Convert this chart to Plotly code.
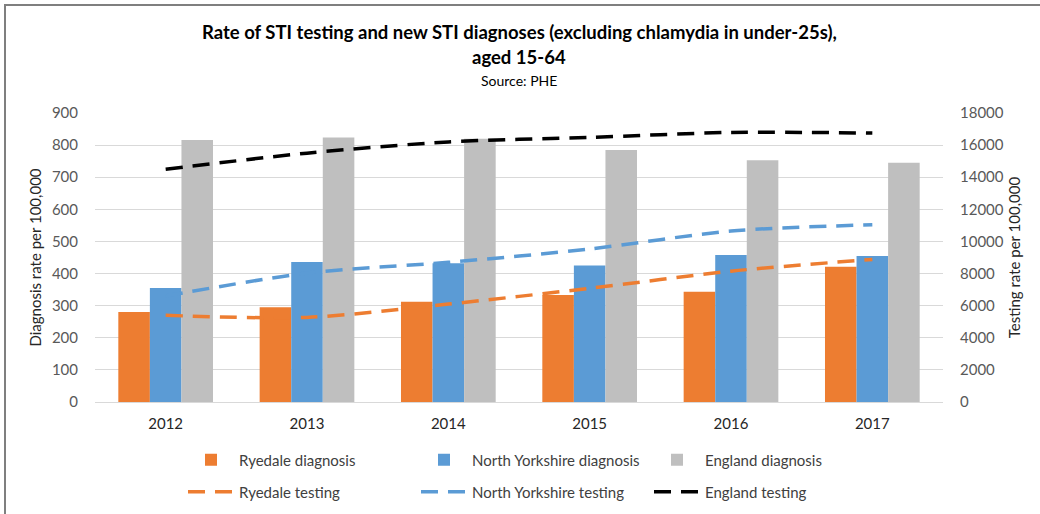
import plotly.graph_objects as go

years = ["2012", "2013", "2014", "2015", "2016", "2017"]
ryedale_diag = [280, 295, 312, 333, 343, 421]
ny_diag = [355, 436, 432, 425, 458, 455]
england_diag = [816, 824, 820, 785, 753, 745]
ryedale_test = [5400, 5270, 6100, 7080, 8150, 8880]
ny_test = [6600, 8030, 8700, 9530, 10650, 11040]
england_test = [14500, 15500, 16200, 16480, 16790, 16750]

FONT = "Lato"
L, R, T, B = 95, 97, 113, 112
W, H = 1040, 514
PW, PH = W - L - R, H - T - B


def px_x(px):
    return (px - L) / PW


def px_y(py):
    return (H - B - py) / PH


fig = go.Figure()
bar_specs = [
    ("Ryedale diagnosis", ryedale_diag, "#ED7D31"),
    ("North Yorkshire diagnosis", ny_diag, "#5B9BD5"),
    ("England diagnosis", england_diag, "#BFBFBF"),
]
for name, vals, col in bar_specs:
    fig.add_trace(go.Bar(
        x=years, y=vals, name=name, marker_color=col,
        marker_line_width=0, legend="legend", yaxis="y",
    ))

line_specs = [
    ("Ryedale testing", ryedale_test, "#ED7D31"),
    ("North Yorkshire testing", ny_test, "#5B9BD5"),
    ("England testing", england_test, "#000000"),
]
for name, vals, col in line_specs:
    fig.add_trace(go.Scatter(
        x=years, y=vals, name=name, mode="lines", yaxis="y2",
        line=dict(color=col, width=3.5, dash="17px,10px", shape="spline", smoothing=0.8),
        legend="legend2",
    ))

tick_font = dict(family=FONT, size=15, color="#595959")
axis_title_font = dict(family=FONT, size=15, color="#262626")
legend_font = dict(family=FONT, size=15, color="#404040")
fig.update_layout(
    width=W, height=H,
    margin=dict(l=L, r=R, t=T, b=B, autoexpand=False),
    paper_bgcolor="white", plot_bgcolor="white",
    barmode="group", bargap=0.33, bargroupgap=0,
    font=dict(family=FONT, color="#404040"),
    xaxis=dict(type="category", showgrid=False, showline=True, linecolor="#D9D9D9",
               linewidth=1, ticks="", ticklabelstandoff=8,
               tickfont=dict(family=FONT, size=15, color="#262626")),
    yaxis=dict(range=[0, 900], dtick=100, showgrid=True, gridcolor="#D9D9D9", gridwidth=1,
               zeroline=False, tickfont=tick_font, ticks="", ticklabelstandoff=16,
               title=dict(text="Diagnosis rate per 100,000", font=axis_title_font, standoff=6)),
    yaxis2=dict(range=[0, 18000], dtick=2000, overlaying="y", side="right", showgrid=False,
                zeroline=False, tickfont=tick_font, ticks="", ticklabelstandoff=16,
                tickformat="d",
                title=dict(text="Testing rate per 100,000", font=axis_title_font, standoff=6)),
    legend=dict(orientation="h", x=px_x(183), y=px_y(460), xanchor="left", yanchor="middle",
                entrywidth=172, entrywidthmode="pixels", font=legend_font,
                traceorder="normal", bgcolor="rgba(0,0,0,0)", itemwidth=46),
    legend2=dict(orientation="h", x=px_x(183), y=px_y(492), xanchor="left", yanchor="middle",
                 entrywidth=172, entrywidthmode="pixels", font=legend_font,
                 traceorder="normal", bgcolor="rgba(0,0,0,0)", itemwidth=46),
    showlegend=True,
)

fig.add_annotation(text="<b>Rate of STI testing and new STI diagnoses (excluding chlamydia in under-25s),</b>",
                   x=0.5, y=px_y(32), xref="paper", yref="paper", showarrow=False,
                   font=dict(family=FONT, size=18.5, color="#000000"), yanchor="middle")
fig.add_annotation(text="<b>aged 15-64</b>",
                   x=0.5, y=px_y(57), xref="paper", yref="paper", showarrow=False,
                   font=dict(family=FONT, size=18.5, color="#000000"), yanchor="middle")
fig.add_annotation(text="Source: PHE",
                   x=0.5, y=px_y(80), xref="paper", yref="paper", showarrow=False,
                   font=dict(family=FONT, size=14, color="#000000"), yanchor="middle")

fig.add_shape(type="rect", xref="paper", yref="paper",
              x0=px_x(5), x1=px_x(1060), y0=px_y(540), y1=px_y(5),
              line=dict(color="#7F7F7F", width=2), fillcolor="rgba(0,0,0,0)", layer="below")

fig.write_html("out.html", config={"displayModeBar": False},
               post_script="document.body.style.margin='0';")
